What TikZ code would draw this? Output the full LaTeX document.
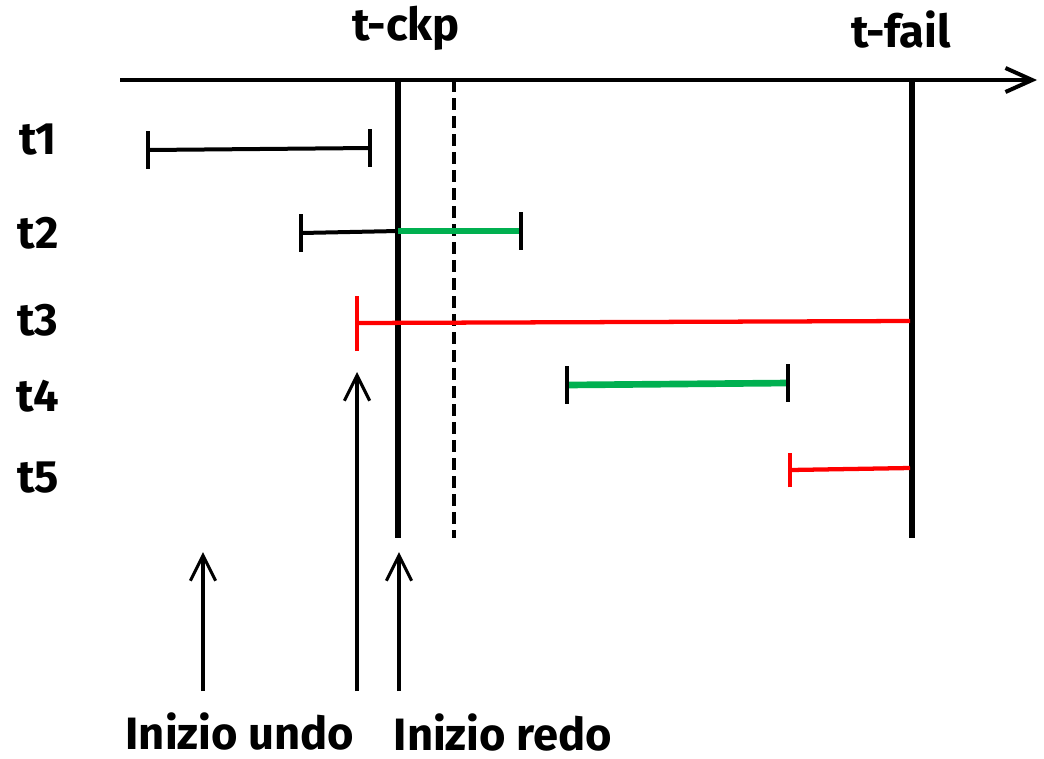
\documentclass[tikz,border=0pt]{standalone}
\usepackage{fontspec}
\setmainfont{Fira Sans}
\usetikzlibrary{arrows.meta}
\definecolor{grn}{RGB}{0,176,80}
\definecolor{rd}{RGB}{255,0,0}
\begin{document}
\begin{tikzpicture}[x=0.75pt,y=-0.75pt,
  lbl/.style={font=\bfseries\fontsize{34}{38}\selectfont, inner sep=0pt},
  axisline/.style={line width=3pt, -{Straight Barb[length=20pt,width=18pt,line width=3pt]}},
  vline/.style={line width=3.8pt},
  blk/.style={line width=3pt},
  grnline/.style={line width=5pt, grn},
  redline/.style={line width=3.2pt, rd},
  upar/.style={line width=2.3pt, -{Straight Barb[length=19pt,width=19pt,line width=2.3pt]}}]
\useasboundingbox (0,0) rectangle (1044,758);
% axis
\coordinate (a0) at (120,80);
\coordinate (a1) at (1037,80);
\draw[axisline] (a0) -- (a1);
% verticals
\coordinate (ck0) at (398,80); \coordinate (ck1) at (398,538);
\coordinate (ds0) at (454,80); \coordinate (ds1) at (454,538);
\coordinate (fl0) at (912,80); \coordinate (fl1) at (912,538);
\draw[vline] (ck0) -- (ck1);
\draw[line width=2.3pt, dash pattern=on 9pt off 4.5pt] (ds0) -- (ds1);
\draw[vline, line width=4.5pt] (fl0) -- (fl1);
% labels top
\node[lbl] (tckp) at (406,28) {t-ckp};
\node[lbl] (tfail) at (901,29) {t-fail};
% row labels
\node[lbl] (l1) at (38,140) {t1};
\node[lbl] (l2) at (38,233) {t2};
\node[lbl] (l3) at (38,320) {t3};
\node[lbl] (l4) at (38,396) {t4};
\node[lbl] (l5) at (38,478) {t5};
% t1
\coordinate (p1a) at (148,150); \coordinate (p1b) at (370,148);
\draw[blk] (p1a) -- (p1b);
\draw[blk] ([yshift=-14]p1a) -- ([yshift=14]p1a);
\draw[blk] ([yshift=-14]p1b) -- ([yshift=14]p1b);
% t2
\coordinate (p2a) at (301,233); \coordinate (p2m) at (398,231); \coordinate (p2b) at (521,231);
\draw[blk] (p2a) -- (p2m);
\draw[grnline] (p2m) -- (p2b);
\draw[blk] ([yshift=-14]p2a) -- ([yshift=14]p2a);
\draw[blk] ([yshift=-14]p2b) -- ([yshift=14]p2b);
% t3
\coordinate (p3a) at (357,323); \coordinate (p3b) at (910,321);
\draw[redline] (p3a) -- (p3b);
\draw[redline] ([yshift=-21]p3a) -- ([yshift=20]p3a);
% t4
\coordinate (p4a) at (567,385); \coordinate (p4b) at (788,383);
\draw[grnline] (p4a) -- (p4b);
\draw[blk] ([yshift=-14]p4a) -- ([yshift=14]p4a);
\draw[blk] ([yshift=-14]p4b) -- ([yshift=14]p4b);
% t5
\coordinate (p5a) at (790,470); \coordinate (p5b) at (910,468);
\draw[redline] (p5a) -- (p5b);
\draw[redline] ([yshift=-13]p5a) -- ([yshift=13]p5a);
% bottom arrows
\coordinate (u0) at (203,691); \coordinate (u1) at (203,552);
\coordinate (v0) at (357,691); \coordinate (v1) at (357,372);
\coordinate (w0) at (399,691); \coordinate (w1) at (399,552);
\draw[upar] (u0) -- (u1);
\draw[upar] (v0) -- (v1);
\draw[upar] (w0) -- (w1);
\node[lbl] (undo) at (240,731) {Inizio undo};
\node[lbl] (redo) at (503,732) {Inizio redo};
\end{tikzpicture}
\end{document}
